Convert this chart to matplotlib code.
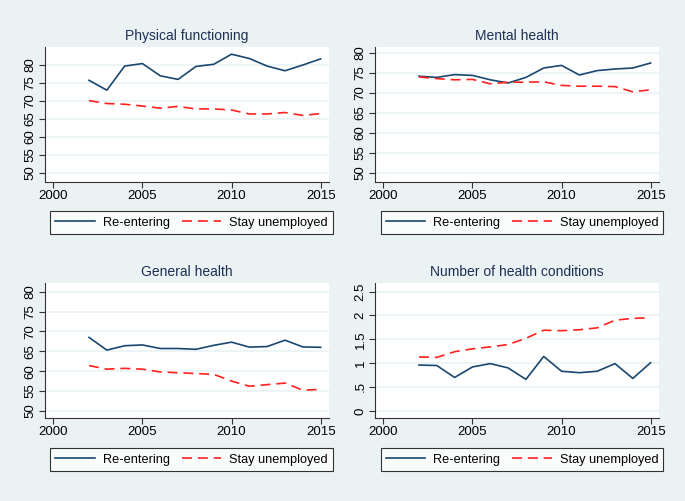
import numpy as np
import matplotlib.pyplot as plt

plt.rcParams['font.family'] = ['Liberation Sans', 'DejaVu Sans']

years = list(range(2002, 2016))

phys_re = [75.75, 73.0, 79.7, 80.4, 77.0, 76.0, 79.6, 80.2, 83.0, 81.8, 79.7, 78.4, 80.0, 81.7]
phys_stay = [70.1, 69.3, 69.1, 68.6, 68.0, 68.5, 67.8, 67.8, 67.5, 66.4, 66.4, 66.8, 66.0, 66.5]

mental_re = [74.2, 73.9, 74.6, 74.4, 73.3, 72.5, 73.9, 76.25, 76.9, 74.5, 75.6, 76.0, 76.25, 77.5]
mental_stay = [74.0, 73.6, 73.3, 73.4, 72.3, 72.7, 72.7, 72.8, 71.9, 71.7, 71.7, 71.6, 70.3, 70.8]

gen_re = [68.5, 65.3, 66.4, 66.6, 65.7, 65.7, 65.5, 66.5, 67.3, 66.05, 66.2, 67.8, 66.1, 66.0]
gen_stay = [61.4, 60.5, 60.7, 60.5, 59.8, 59.6, 59.4, 59.2, 57.5, 56.2, 56.6, 57.0, 55.2, 55.4]

cond_re = [0.96, 0.95, 0.70, 0.92, 0.99, 0.90, 0.66, 1.14, 0.83, 0.80, 0.83, 0.99, 0.68, 1.01]
cond_stay = [1.13, 1.12, 1.24, 1.30, 1.34, 1.39, 1.52, 1.69, 1.68, 1.70, 1.74, 1.90, 1.94, 1.95]

titles = ["Physical functioning", "Mental health", "General health", "Number of health conditions"]
labels = ["Re-entering", "Stay unemployed"]

bg = "#eaf2f3"
navy = "#1a476f"
title_col = "#1e2f55"

W, H = 685, 501
fig = plt.figure(figsize=(W / 100, H / 100), dpi=100, facecolor=bg)

# panel boxes in pixels: left, top, right, bottom ; legend centre x, y
panels = [
    dict(ax=(45, 47, 329, 182), leg=(191.5, 222.5), ylim=(47.5, 85),
         yticks=np.arange(50, 81, 5), ylab=None, re=phys_re, st=phys_stay),
    dict(ax=(375, 47, 659, 182), leg=(522, 222.5), ylim=(47.75, 81.5),
         yticks=np.arange(50, 81, 5), ylab=None, re=mental_re, st=mental_stay),
    dict(ax=(45, 283, 329, 418), leg=(191.5, 459.5), ylim=(48.2, 82.2),
         yticks=np.arange(50, 81, 5), ylab=None, re=gen_re, st=gen_stay),
    dict(ax=(375, 283, 659, 418), leg=(522, 459.5), ylim=(-0.15, 2.68),
         yticks=[0, 0.5, 1, 1.5, 2, 2.5], ylab=["0", ".5", "1", "1.5", "2", "2.5"],
         re=cond_re, st=cond_stay),
]

for p, t in zip(panels, titles):
    l, tp, r, b = p["ax"]
    ax = fig.add_axes([l / W, 1 - b / H, (r - l) / W, (b - tp) / H])
    ax.set_facecolor("white")
    h1, = ax.plot(years, p["re"], color=navy, lw=1.2)
    h2, = ax.plot(years, p["st"], color="#ff2020", lw=1.2, dashes=(6, 3.5))
    ax.set_xlim(1999.53, 2015.47)
    ax.set_ylim(*p["ylim"])
    ax.set_xticks([2000, 2005, 2010, 2015])
    ax.set_yticks(p["yticks"])
    if p["ylab"]:
        ax.set_yticklabels(p["ylab"])
    ax.grid(axis="y", color=bg, lw=1.2)
    ax.set_axisbelow(True)
    for s in ["top", "right"]:
        ax.spines[s].set_visible(False)
    for s in ["left", "bottom"]:
        ax.spines[s].set_color("#333333")
        ax.spines[s].set_linewidth(0.8)
    ax.tick_params(axis="both", labelsize=9.5, color="#333333", length=4, width=0.8, pad=2)
    for lab in ax.get_yticklabels():
        lab.set_rotation(90)
        lab.set_va("center")
    ax.set_title(t, fontsize=10, color=title_col, pad=5)

    cx, cy = p["leg"]
    leg = fig.legend([h1, h2], labels, ncol=2, loc="center",
                     bbox_to_anchor=(cx / W, 1 - cy / H),
                     fontsize=9.2, frameon=True, fancybox=False,
                     handlelength=3.1, borderaxespad=0, borderpad=0.4,
                     columnspacing=0.95, handletextpad=0.6)
    leg.get_frame().set_edgecolor("black")
    leg.get_frame().set_linewidth(0.8)

fig.savefig("out.png", dpi=100, facecolor=bg)
